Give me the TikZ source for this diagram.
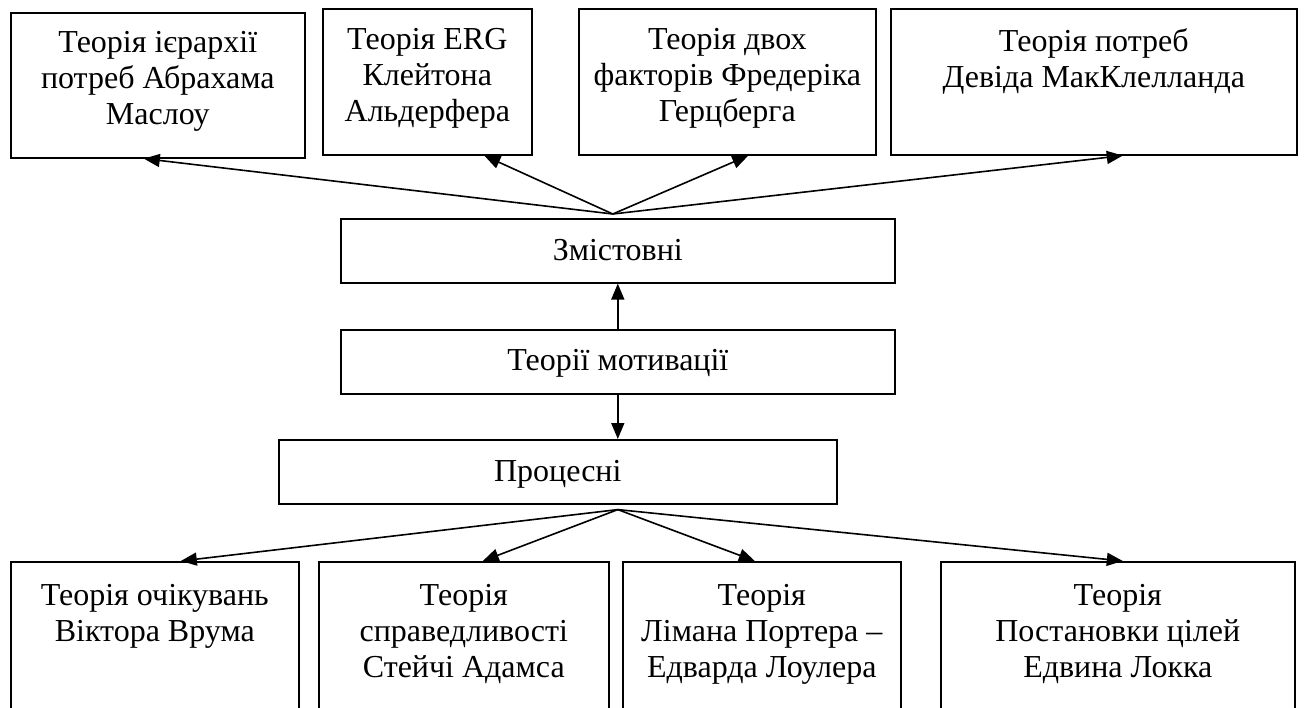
\documentclass[tikz,border=0pt]{standalone}
\usepackage{fontspec}
\setmainfont{Liberation Serif}
\usetikzlibrary{arrows.meta}
\begin{document}
\begin{tikzpicture}[x=1pt,y=-1pt,
  box/.style={draw, line width=1.6pt, inner sep=0pt, anchor=north west},
  txt/.style={anchor=north, align=center, inner sep=0pt,
    font=\fontsize{32}{36.2}\selectfont},
  arr/.style={line width=1.6pt, -{Triangle[length=16pt,width=13pt]}}]
\useasboundingbox (0,0) rectangle (1306,708);

% top row: content theories
\node[box, minimum width=294, minimum height=145] (b1) at (10,12) {};
\node[box, minimum width=209, minimum height=146] (b2) at (322,8) {};
\node[box, minimum width=297, minimum height=146] (b3) at (578,8) {};
\node[box, minimum width=406, minimum height=146] (b4) at (890,8) {};
\node[txt] (t1) at ([yshift=-19pt]b1.north) {Теорія ієрархії\\потреб Абрахама\\Маслоу};
\node[txt] (t2) at ([yshift=-20pt]b2.north) {Теорія ERG\\Клейтона\\Альдерфера};
\node[txt] (t3) at ([yshift=-20pt]b3.north) {Теорія двох\\факторів Фредеріка\\Герцберга};
\node[txt] (t4) at ([yshift=-20pt]b4.north) {Теорія потреб\\Девіда МакКлелланда};

% central column
\node[box, minimum width=554, minimum height=64] (zm) at (340,218) {};
\node[txt] at ([yshift=-21pt]zm.north) {Змістовні};
\node[box, minimum width=554, minimum height=64] (tm) at (340,329) {};
\node[txt] at ([yshift=-20pt]tm.north) {Теорії мотивації};
\node[box, minimum width=558, minimum height=64] (pr) at (278,439) {};
\node[txt] at ([yshift=-21pt]pr.north) {Процесні};

% bottom row: process theories
\node[box, minimum width=288, minimum height=148] (b5) at (10,561) {};
\node[box, minimum width=290, minimum height=148] (b6) at (318,561) {};
\node[box, minimum width=278, minimum height=148] (b7) at (622,561) {};
\node[box, minimum width=354, minimum height=148] (b8) at (940,561) {};
\node[txt] (t5) at ([yshift=-23pt]b5.north) {Теорія очікувань\\Віктора Врума};
\node[txt] (t6) at ([yshift=-23pt]b6.north) {Теорія\\справедливості\\Стейчі Адамса};
\node[txt] (t7) at ([yshift=-23pt]b7.north) {Теорія\\Лімана Портера –\\Едварда Лоулера};
\node[txt] (t8) at ([yshift=-23pt]b8.north) {Теорія\\Постановки цілей\\Едвина Локка};

% connectors
\coordinate (up) at ([xshift=-5pt,yshift=4pt]zm.north);
\draw[arr] (up) -- ([xshift=-14pt]b1.south);
\draw[arr] (up) -- ([xshift=57pt]b2.south);
\draw[arr] (up) -- ([xshift=21pt]b3.south);
\draw[arr] (up) -- ([xshift=29pt]b4.south);
\draw[arr] (tm.north) -- (zm.south);
\draw[arr] (tm.south) -- (tm.south |- pr.north);
\coordinate (dn) at ([yshift=-5pt]pr.south -| tm.south);
\draw[arr] (dn) -- ([xshift=26pt]b5.north);
\draw[arr] (dn) -- ([xshift=19pt]b6.north);
\draw[arr] (dn) -- ([xshift=-7pt]b7.north);
\draw[arr] (dn) -- ([xshift=5pt]b8.north);
\end{tikzpicture}
\end{document}
